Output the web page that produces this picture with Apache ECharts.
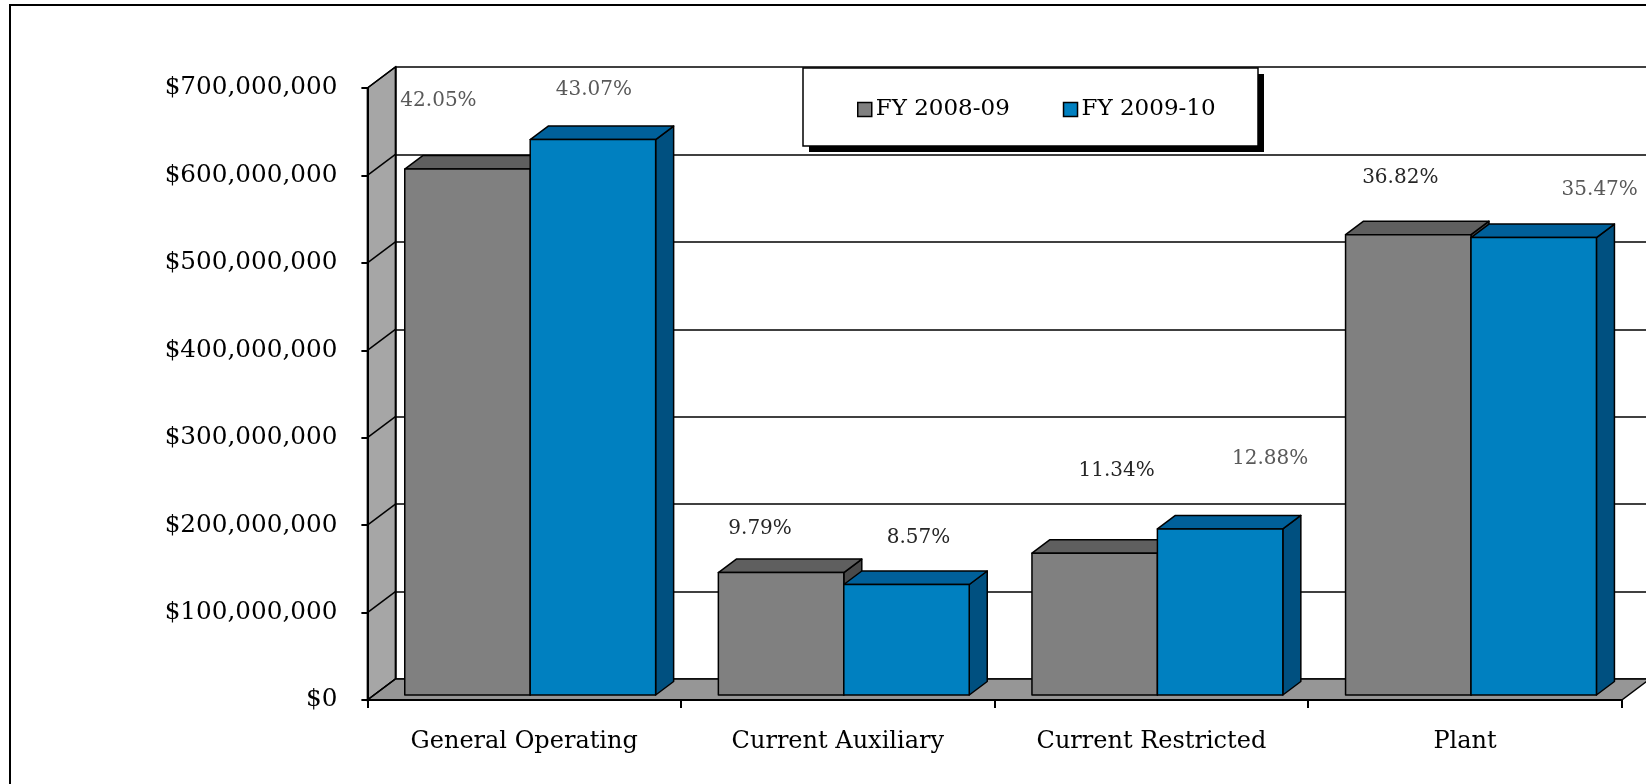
<!DOCTYPE html>
<html><head><meta charset="utf-8">
<script src="https://cdn.jsdelivr.net/npm/echarts@6/dist/echarts.min.js"></script>
<style>html,body{margin:0;padding:0;background:#fff}#c{width:1646px;height:784px}</style>
</head><body><div id="c"></div>
<script>
// ---- data ----
const categories = ['General Operating', 'Current Auxiliary', 'Current Restricted', 'Plant'];
const seriesNames = ['FY 2008-09', 'FY 2009-10'];
const fy0809 = [601500000, 140000000, 162200000, 526500000];
const fy0910 = [635300000, 126400000, 190000000, 523200000];
const pct0809 = ['42.05%', '9.79%', '11.34%', '36.82%'];
const pct0910 = ['43.07%', '8.57%', '12.88%', '35.47%'];
const yTicks = [0, 100000000, 200000000, 300000000, 400000000, 500000000, 600000000, 700000000];

// ---- layout / style ----
const WDX = 28, WDY = -21;          // wall depth
const BDX0 = 6, BDY0 = -5;          // bar front-face shift
const BDX = 18, BDY = -13.5;        // bar depth
const BAR_FRAC = 0.4;
const nudge0809 = [[-29, -68], [-21, -44], [22, -82], [-8, -57]];
const nudge0910 = [[1, -50], [12, -47], [50, -70], [66, -48]];
const lcol0809 = ['#595959', '#262626', '#262626', '#262626'];
const lcol0910 = ['#595959', '#262626', '#595959', '#595959'];
const grayCols = { front: '#808080', top: '#5f5f5f', side: '#4a4a4a' };
const blueCols = { front: '#0080c0', top: '#00609a', side: '#005080' };
const FONT = 'DejaVu Serif';

const GL = 367.4, GT = 88, GW = 1254.4, GH = 612;
const LEG = { x: 803, y: 68, w: 455, h: 78, sh: 6 };

function renderWalls(params, api) {
  const v = api.value(1);
  const p = api.coord([0, v]);
  const cs = params.coordSys;
  const xL = cs.x, xR = cs.x + cs.width;
  const ch = [];
  if (params.dataIndex === 0) {
    const yTop = api.coord([0, yTicks[yTicks.length - 1]])[1];
    const yBot = p[1];
    ch.push({ type: 'polygon', shape: { points: [[xL, yBot], [xL + WDX, yBot + WDY], [xL + WDX, yTop + WDY], [xL, yTop]] },
      style: { fill: '#a6a6a6', stroke: '#000', lineWidth: 1.5 } });
    ch.push({ type: 'polygon', shape: { points: [[xL, yBot], [xL + WDX, yBot + WDY], [xR + WDX, yBot + WDY], [xR, yBot]] },
      style: { fill: '#969696', stroke: '#000', lineWidth: 1.5 } });
  }
  ch.push({ type: 'line', shape: { x1: xL, y1: p[1], x2: xL + WDX, y2: p[1] + WDY }, style: { stroke: '#000', lineWidth: 1.5 } });
  return { type: 'group', children: ch };
}

function makeBarRender(k, pcts, nudges, lcols, cols) {
  return function (params, api) {
    const i = api.value(0), v = api.value(1);
    const top = api.coord([i, v]);
    const base = api.coord([i, 0]);
    const band = api.size([1, 0])[0];
    const bw = band * BAR_FRAC;
    const xl = top[0] - bw + k * bw + BDX0;
    const xr = xl + bw;
    const ty = top[1] + BDY0, by = base[1] + BDY0;
    const st = { stroke: '#000', lineWidth: 1.5, lineJoin: 'round' };
    const idx = params.dataIndex;
    return {
      type: 'group',
      children: [
        { type: 'polygon', shape: { points: [[xr, ty], [xr + BDX, ty + BDY], [xr + BDX, by + BDY], [xr, by]] },
          style: Object.assign({ fill: cols.side }, st) },
        { type: 'polygon', shape: { points: [[xl, ty], [xl + BDX, ty + BDY], [xr + BDX, ty + BDY], [xr, ty]] },
          style: Object.assign({ fill: cols.top }, st) },
        { type: 'rect', shape: { x: xl, y: ty, width: bw, height: by - ty },
          style: Object.assign({ fill: cols.front }, st) },
        { type: 'text', x: (xl + xr) / 2 + nudges[idx][0], y: ty + nudges[idx][1],
          style: { text: pcts[idx], fill: lcols[idx], fontFamily: FONT, fontSize: 20, align: 'center', verticalAlign: 'middle' } }
      ]
    };
  };
}

const chart = echarts.init(document.getElementById('c'));
chart.setOption({
  backgroundColor: '#fff',
  animation: false,
  textStyle: { fontFamily: FONT },
  graphic: [
    { type: 'polyline', shape: { points: [[10, 800], [10, 5], [1700, 5]] }, style: { stroke: '#000', lineWidth: 2, fill: null }, z: 100 },
    { type: 'rect', z: 5, shape: { x: LEG.x + LEG.sh, y: LEG.y + LEG.sh, width: LEG.w, height: LEG.h }, style: { fill: '#000' } },
    { type: 'rect', z: 6, shape: { x: LEG.x, y: LEG.y, width: LEG.w, height: LEG.h }, style: { fill: '#fff', stroke: '#000', lineWidth: 1.5 } }
  ],
  legend: {
    left: LEG.x, top: LEG.y, z: 10,
    data: [
      { name: seriesNames[0], icon: 'rect', itemStyle: { color: grayCols.front, borderColor: '#000', borderWidth: 1.5 } },
      { name: seriesNames[1], icon: 'rect', itemStyle: { color: blueCols.front, borderColor: '#000', borderWidth: 1.5 } }
    ],
    itemWidth: 14, itemHeight: 14, itemGap: 53,
    padding: [30, 46, 22, 54],
    textStyle: { fontFamily: FONT, fontSize: 23, color: '#000', padding: [0, 0, 0, -1] },
    selectedMode: false
  },
  grid: [
    { left: GL, top: GT, width: GW, height: GH },
    { left: GL + WDX, top: GT + WDY, width: GW, height: GH }
  ],
  xAxis: [
    { type: 'category', gridIndex: 0, data: categories, z: 5,
      axisLine: { lineStyle: { color: '#000', width: 2 } },
      axisTick: { show: true, length: 8, interval: 0, lineStyle: { color: '#000', width: 2 } },
      axisLabel: { fontFamily: FONT, fontSize: 24, color: '#000', margin: 30, interval: 0 } },
    { type: 'category', gridIndex: 1, data: categories, show: false }
  ],
  yAxis: [
    { type: 'value', gridIndex: 0, min: 0, max: 700000000, interval: 100000000, z: 5,
      axisLine: { show: true, lineStyle: { color: '#000', width: 2 } },
      axisTick: { show: true, length: 6, lineStyle: { color: '#000', width: 2 } },
      splitLine: { show: false },
      axisLabel: { fontFamily: FONT, fontSize: 24.7, color: '#000', margin: 30,
        formatter: v => '$' + v.toLocaleString('en-US') } },
    { type: 'value', gridIndex: 1, min: 0, max: 700000000, interval: 100000000,
      axisLine: { show: true, lineStyle: { color: '#000', width: 1.5 } },
      axisTick: { show: false }, axisLabel: { show: false },
      splitLine: { show: true, lineStyle: { color: '#000', width: 1.7 } } }
  ],
  series: [
    { type: 'custom', name: 'walls', xAxisIndex: 0, yAxisIndex: 0, z: 1, silent: true,
      data: yTicks.map(v => [0, v]), encode: { x: 0, y: 1 }, renderItem: renderWalls },
    { type: 'custom', name: seriesNames[0], xAxisIndex: 0, yAxisIndex: 0, z: 3,
      itemStyle: { color: grayCols.front },
      data: fy0809.map((v, i) => [i, v]), encode: { x: 0, y: 1 },
      renderItem: makeBarRender(0, pct0809, nudge0809, lcol0809, grayCols) },
    { type: 'custom', name: seriesNames[1], xAxisIndex: 0, yAxisIndex: 0, z: 4,
      itemStyle: { color: blueCols.front },
      data: fy0910.map((v, i) => [i, v]), encode: { x: 0, y: 1 },
      renderItem: makeBarRender(1, pct0910, nudge0910, lcol0910, blueCols) }
  ]
});
</script></body></html>
